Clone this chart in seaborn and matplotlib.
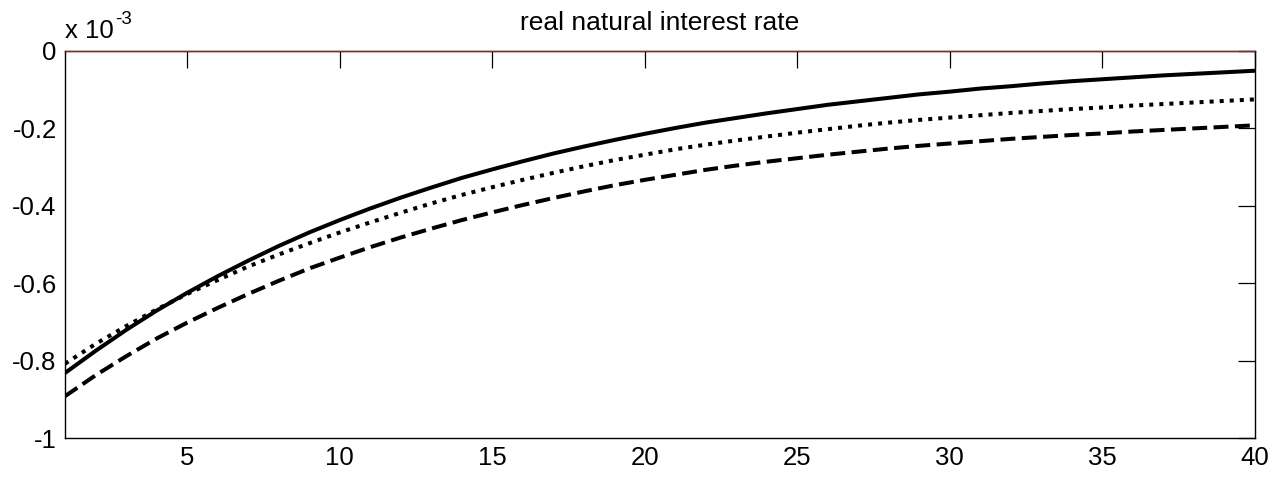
import numpy as np
import pandas as pd
import matplotlib
matplotlib.use("Agg")
import matplotlib.pyplot as plt
import seaborn as sns

# horizon (quarters)
periods = list(range(1, 41))

# values in units of 1e-3
solid_vals = [-0.832, -0.775, -0.721, -0.671, -0.625, -0.582, -0.542, -0.504, -0.469, -0.437,
              -0.407, -0.379, -0.353, -0.328, -0.306, -0.285, -0.265, -0.247, -0.230, -0.214,
              -0.199, -0.185, -0.173, -0.161, -0.150, -0.139, -0.130, -0.121, -0.112, -0.105,
              -0.097, -0.091, -0.084, -0.078, -0.073, -0.068, -0.063, -0.059, -0.055, -0.051]
dotted_vals = [-0.808, -0.757, -0.711, -0.668, -0.628, -0.592, -0.557, -0.526, -0.497, -0.469,
               -0.443, -0.418, -0.394, -0.372, -0.352, -0.333, -0.315, -0.298, -0.282, -0.268,
               -0.254, -0.242, -0.231, -0.221, -0.211, -0.202, -0.193, -0.185, -0.178, -0.172,
               -0.166, -0.160, -0.155, -0.150, -0.146, -0.141, -0.137, -0.133, -0.129, -0.125]
dashed_vals = [-0.892, -0.838, -0.789, -0.743, -0.702, -0.664, -0.628, -0.594, -0.562, -0.534,
               -0.507, -0.482, -0.459, -0.437, -0.417, -0.398, -0.380, -0.363, -0.347, -0.333,
               -0.320, -0.307, -0.296, -0.286, -0.277, -0.268, -0.260, -0.252, -0.245, -0.239,
               -0.233, -0.227, -0.222, -0.217, -0.213, -0.208, -0.204, -0.200, -0.196, -0.192]

title_text = "real natural interest rate"
y_ticks = [-1.0, -0.8, -0.6, -0.4, -0.2, 0.0]
y_tick_labels = ["-1", "-0.8", "-0.6", "-0.4", "-0.2", "0"]
x_ticks = [5, 10, 15, 20, 25, 30, 35, 40]
x_tick_labels = ["5", "10", "15", "20", "25", "30", "35", "40"]
exponent_base = "x 10"
exponent_power = "-3"

sns.set_theme(style="white")
plt.rcParams["font.family"] = ["Liberation Sans", "DejaVu Sans"]

fig = plt.figure(figsize=(12.83, 4.79), dpi=100)
ax = fig.add_axes([65 / 1283, 1 - 438 / 479, (1255 - 65) / 1283, (438 - 51) / 479])

df = pd.DataFrame({"t": periods, "solid": solid_vals, "dotted": dotted_vals, "dashed": dashed_vals})

lw = 2.9
sns.lineplot(data=df, x="t", y="solid", ax=ax, color="black", linewidth=lw,
             linestyle="-", solid_capstyle="butt")
sns.lineplot(data=df, x="t", y="dotted", ax=ax, color="black", linewidth=lw,
             linestyle=(0, (1.0, 1.5)), dash_capstyle="butt")
sns.lineplot(data=df, x="t", y="dashed", ax=ax, color="black", linewidth=lw,
             linestyle=(0, (3.7, 1.6)), dash_capstyle="butt")

ax.axhline(0.0, color="#e00000", linewidth=0.9, zorder=5, clip_on=False)

ax.set_xlim(1, 40)
ax.set_ylim(-1.0, 0.0)
ax.set_xticks(x_ticks)
ax.set_xticklabels(x_tick_labels)
ax.set_yticks(y_ticks)
ax.set_yticklabels(y_tick_labels)
ax.set_xlabel("")
ax.set_ylabel("")

for sp in ax.spines.values():
    sp.set_visible(True)
    sp.set_color("black")
    sp.set_linewidth(1.0)

ax.tick_params(axis="both", which="both", direction="in", length=12, width=0.9,
               colors="black", labelsize=18.5, top=True, right=True,
               labeltop=False, labelright=False, pad=6)

ax.set_title(title_text, fontsize=19, color="black", pad=15)

base = ax.text(0.0, 1.034, exponent_base, transform=ax.transAxes, fontsize=18.5,
               ha="left", va="baseline", color="black")
fig.canvas.draw()
bb = base.get_window_extent(renderer=fig.canvas.get_renderer())
ax.annotate(exponent_power, xy=(bb.x1, bb.y0), xycoords="figure pixels",
            xytext=(1.5, 14.5), textcoords="offset pixels", fontsize=13.5,
            ha="left", va="bottom", color="black")

fig.savefig("out.png", dpi=100, facecolor="white")
